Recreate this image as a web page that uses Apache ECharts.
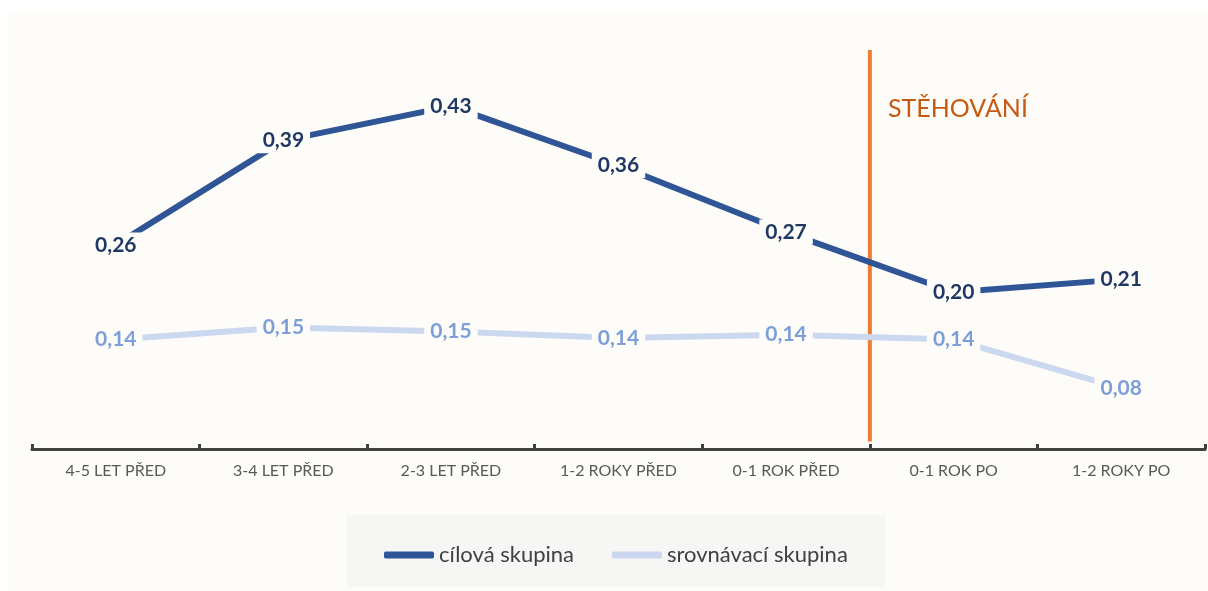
<!DOCTYPE html>
<html>
<head>
<meta charset="utf-8">
<script src="https://cdn.jsdelivr.net/npm/echarts@6/dist/echarts.min.js"></script>
<style>
html,body{margin:0;padding:0;background:#ffffff;}
#chart{width:1208px;height:591px;}
</style>
</head>
<body>
<div id="chart"></div>
<script>
const categories = ['4-5 LET PŘED','3-4 LET PŘED','2-3 LET PŘED','1-2 ROKY PŘED','0-1 ROK PŘED','0-1 ROK PO','1-2 ROKY PO'];
const targetName = 'cílová skupina';
const targetValues = [0.257, 0.387, 0.430, 0.356, 0.273, 0.198, 0.214];
const compareName = 'srovnávací skupina';
const compareValues = [0.139, 0.154, 0.149, 0.141, 0.145, 0.139, 0.078];
const moveLabel = 'STĚHOVÁNÍ';
const moveBoundary = 5;          // boundary between 5th and 6th category
const moveLineRange = [0.5, 0.012];
const yMax = 0.5;

const panelBg = '#FDFCF8';
const fmt = p => (Math.round(p.value * 100) / 100).toFixed(2).replace('.', ',');
const chart = echarts.init(document.getElementById('chart'), null, {renderer:'canvas'});

function labelStyle(color){
  return {
    show:true, position:'inside', formatter: fmt,
    fontFamily:'Lato', fontWeight:'bold', fontSize:21, color:color,
    backgroundColor: panelBg, padding:[2,6,2,6]
  };
}

chart.setOption({
  backgroundColor:'#ffffff',
  animation:false,
  graphic:[
    {type:'rect', z:-10, shape:{x:8,y:10,width:1200,height:581}, style:{fill:panelBg}},
    {type:'rect', z:-9, shape:{x:346,y:515,width:539,height:72}, style:{fill:'#F6F6F4'}},
    {type:'text', z:5, left:888, top:96, style:{text:moveLabel, fill:'#C55A11', font:'25px Lato'}}
  ],
  grid:{left:32, right:3, top:50, bottom:140, containLabel:false},
  legend:{
    data:[targetName, compareName],
    left:379, top:539,
    icon:'roundRect', itemWidth:50, itemHeight:7, itemGap:38,
    textStyle:{fontFamily:'Lato', fontSize:22, color:'#404040'}
  },
  xAxis:[
    {
      type:'category', data:categories, boundaryGap:true, offset:-2,
      axisLine:{show:true, lineStyle:{color:'#404040', width:3}},
      axisTick:{show:true, inside:true, length:5, interval:0, lineStyle:{color:'#404040', width:3}},
      axisLabel:{interval:0, margin:14, fontFamily:'Lato', fontSize:16, color:'#595959'},
      splitLine:{show:false}
    },
    {type:'value', min:0, max:categories.length, show:false}
  ],
  yAxis:{type:'value', min:0, max:yMax, show:false, splitLine:{show:false}},
  series:[
    {
      name:compareName, type:'line', data:compareValues,
      symbol:'circle', symbolSize:0, showSymbol:true,
      lineStyle:{color:'#CBD8EF', width:6, cap:'round'},
      itemStyle:{color:'#CBD8EF'},
      label:labelStyle('#7C9ED9'), z:3
    },
    {
      name:targetName, type:'line', data:targetValues,
      symbol:'circle', symbolSize:0, showSymbol:true,
      lineStyle:{color:'#2F5597', width:6, cap:'round'},
      itemStyle:{color:'#2F5597'},
      label:labelStyle('#1F3864'), z:4
    },
    {
      name:'move', type:'line', xAxisIndex:1, silent:true,
      data:[[moveBoundary, moveLineRange[0]],[moveBoundary, moveLineRange[1]]],
      symbol:'none', lineStyle:{color:'#ED7D31', width:4}, z:2
    }
  ]
});
</script>
</body>
</html>
